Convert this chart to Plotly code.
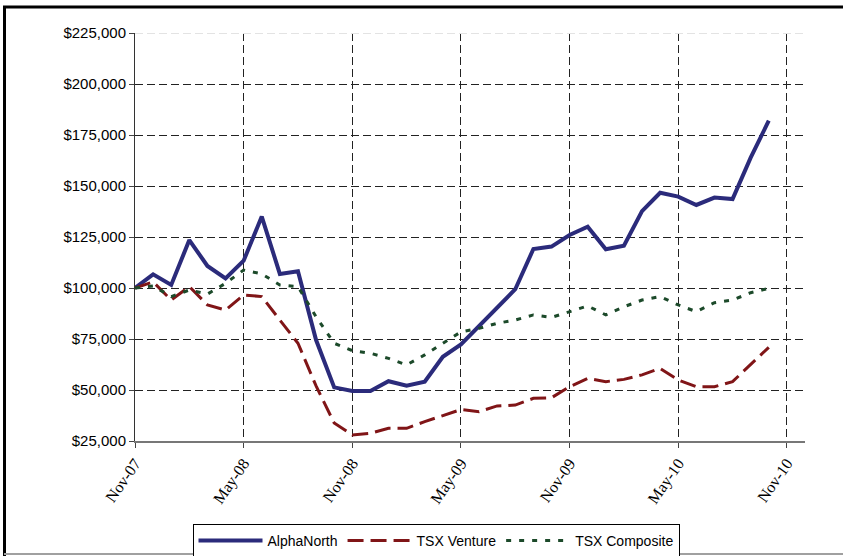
import plotly.graph_objects as go

months = list(range(36))
tick_vals = [0, 6, 12, 18, 24, 30, 36]
tick_text = ["Nov-07", "May-08", "Nov-08", "May-09", "Nov-09", "May-10", "Nov-10"]
y_ticks = [25000, 50000, 75000, 100000, 125000, 150000, 175000, 200000, 225000]

alphanorth = [100000, 106700, 101500, 123500, 110800, 104700, 113400, 135000, 106900, 108200,
              74500, 51300, 49500, 49500, 54300, 52100, 54100, 66300, 72300, 81200,
              90300, 99400, 119100, 120300, 126000, 130000, 119000, 120700, 137700, 146700,
              144800, 140700, 144300, 143600, 163900, 182000]
tsx_venture = [100000, 103000, 94100, 100700, 91700, 89200, 96600, 95800, 84300, 72900,
               52000, 33800, 28000, 28800, 31200, 31200, 34500, 37300, 40400, 39400,
               42200, 42600, 45900, 46200, 51600, 55700, 54100, 55200, 57400, 60600,
               54900, 51600, 51600, 54100, 62300, 70900]
tsx_composite = [100000, 101000, 95800, 99000, 97000, 102300, 108800, 106900, 101500, 100700,
                 85900, 72900, 69300, 68000, 65500, 62300, 67200, 72900, 78500, 80200,
                 82700, 84300, 86800, 85600, 88400, 91200, 86800, 90800, 94100, 95800,
                 91700, 88400, 92800, 94100, 97700, 99800]

W, H = 843, 556
L, R, T, B = 135, 38, 33, 115
pw, ph = W - L - R, H - T - B

def px(x):
    return (x - L) / pw

def py(y):
    return (H - B - y) / ph

fig = go.Figure()
fig.add_trace(go.Scatter(x=months, y=alphanorth, name="AlphaNorth", mode="lines",
                         line=dict(color="#2b2b7b", width=4)))
fig.add_trace(go.Scatter(x=months, y=tsx_venture, name="TSX Venture", mode="lines",
                         line=dict(color="#801517", width=3, dash="16px,7px")))
fig.add_trace(go.Scatter(x=months, y=tsx_composite, name="TSX Composite", mode="lines",
                         line=dict(color="#1c4a2a", width=3, dash="5px,8px")))

shapes = [
    dict(type="line", xref="x", yref="y", x0=0, x1=37, y0=225000, y1=225000,
         line=dict(color="white", width=2), layer="between"),
    dict(type="line", xref="x", yref="y", x0=0, x1=37, y0=225000, y1=225000,
         line=dict(color="#c8c8c8", width=1, dash="8px,4px"), layer="between"),
    dict(type="line", xref="paper", yref="paper", x0=px(3), x1=px(843), y0=py(7), y1=py(7),
         line=dict(color="black", width=3)),
    dict(type="line", xref="paper", yref="paper", x0=px(4.5), x1=px(4.5), y0=py(6), y1=py(556),
         line=dict(color="black", width=3)),
    dict(type="line", xref="paper", yref="paper", x0=px(4), x1=px(843), y0=py(554), y1=py(554),
         line=dict(color="#a0a0a0", width=2)),
]

fig.update_layout(
    width=W, height=H,
    margin=dict(l=L, r=R, t=T, b=B, autoexpand=False),
    paper_bgcolor="white", plot_bgcolor="white",
    font=dict(family="Liberation Sans, Arial", size=15, color="black"),
    shapes=shapes,
    showlegend=True,
    legend=dict(orientation="h", x=px(436), xanchor="center", y=py(524), yanchor="top",
                bordercolor="black", borderwidth=1, bgcolor="white",
                font=dict(family="Liberation Sans, Arial", size=14),
                itemwidth=64, tracegroupgap=0),
    xaxis=dict(range=[0, 37], tickmode="array", tickvals=tick_vals, ticktext=tick_text,
               tickangle=-55, tickfont=dict(family="Liberation Serif, Times New Roman", size=16),
               showgrid=True, gridcolor="#222", griddash="8px,4px", gridwidth=1,
               showline=True, linecolor="#777", linewidth=1.5,
               ticks="outside", ticklen=5, tickcolor="#444", zeroline=False),
    yaxis=dict(range=[25000, 225000], tickmode="array", tickvals=y_ticks,
               tickformat="$,.0f", showgrid=True, gridcolor="#222", griddash="8px,4px",
               gridwidth=1, showline=True, linecolor="#333", linewidth=1,
               ticks="outside", ticklen=5, tickcolor="#444", zeroline=False,
               tickfont=dict(size=15)),
)

fig.write_html("out.html", config={"displayModeBar": False},
               post_script="document.body.style.margin='0';")
